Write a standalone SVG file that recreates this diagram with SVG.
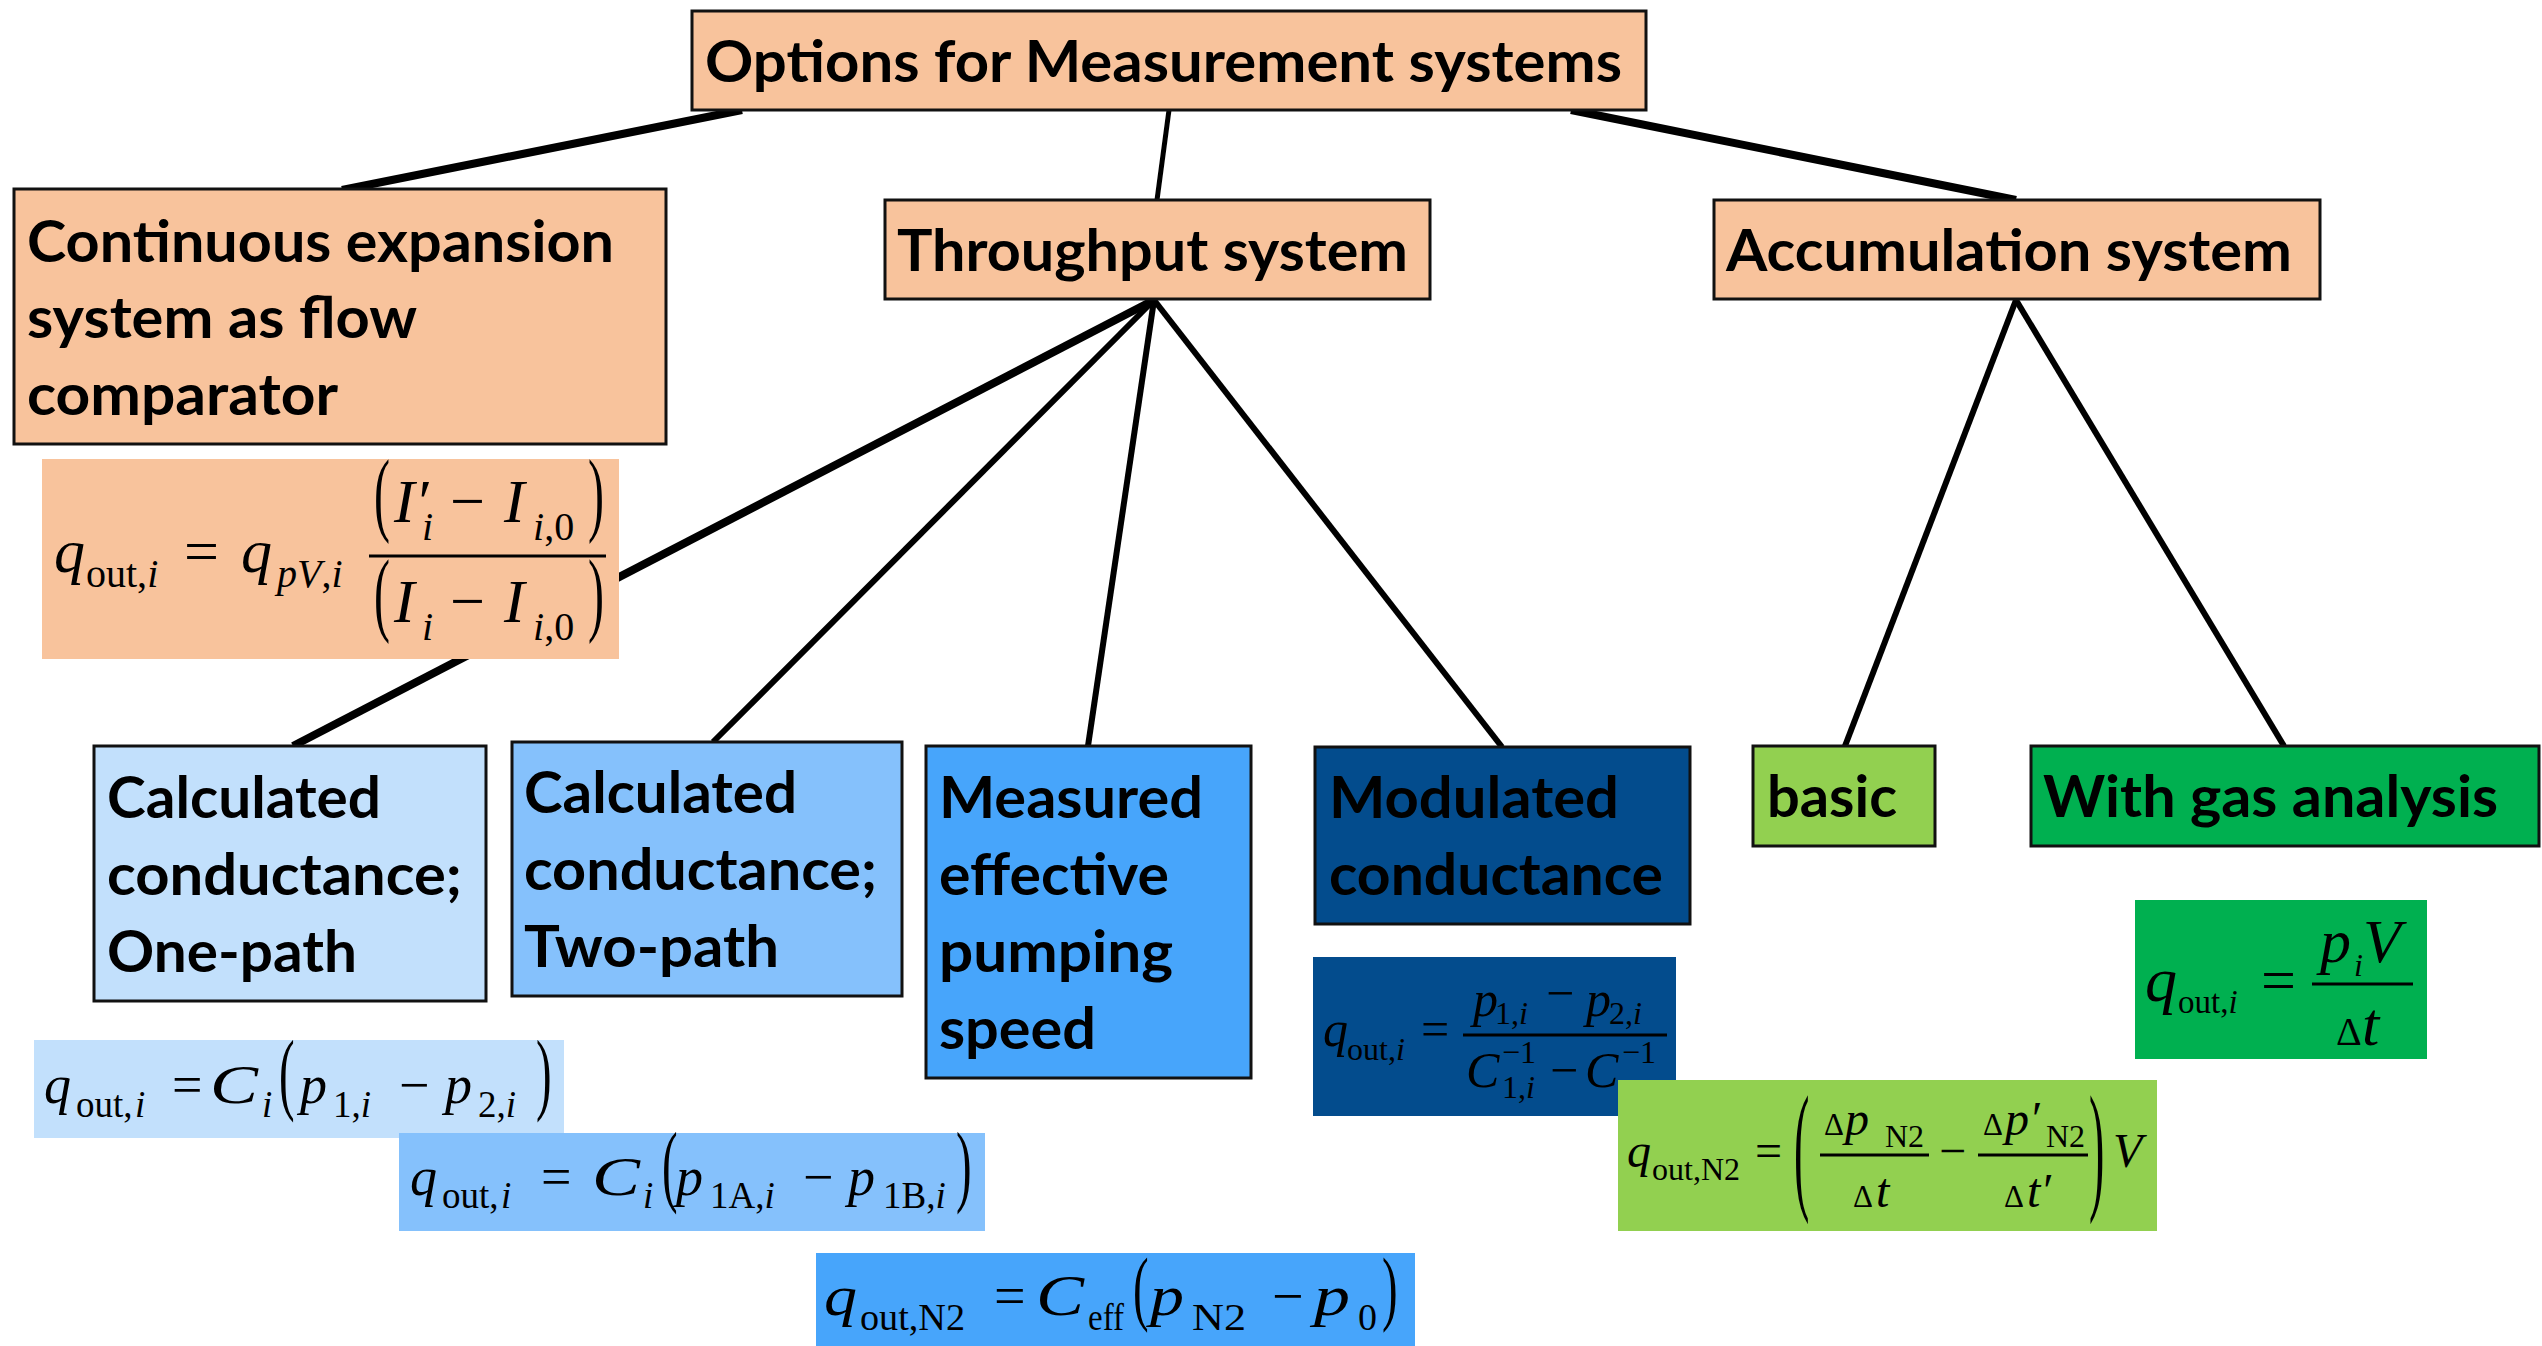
<svg xmlns="http://www.w3.org/2000/svg" width="2542" height="1346" viewBox="0 0 2542 1346">
<style>
.bx{stroke:#111;stroke-width:3}
.lbl{font-family:Lato,"Open Sans","Liberation Sans",sans-serif;font-weight:700;font-size:58px;fill:#000}
.c{stroke:#000;stroke-width:6;fill:none}
.ct{stroke-width:8}
.cn{stroke-width:5}
.m{font-family:"Liberation Serif","Times New Roman",serif;fill:#000}
.it{font-style:italic}
.up{font-style:normal}
.bar{stroke:#000;stroke-width:3}
.peach{fill:#F8C39C}
.b1{fill:#C2E0FC}
.b2{fill:#85C1FC}
.b3{fill:#47A5FB}
.b4{fill:#034C8D}
.g1{fill:#92D050}
.g2{fill:#00B050}
</style>
<rect width="2542" height="1346" fill="#fff"/>

<g id="connectors">
<line class="c ct" x1="742" y1="110" x2="342" y2="190"/>
<line class="c cn" x1="1169" y1="110" x2="1157" y2="200"/>
<line class="c ct" x1="1571" y1="110" x2="2016" y2="200"/>
<line class="c ct" x1="1154" y1="300" x2="293" y2="746"/>
<line class="c" x1="1154" y1="300" x2="713" y2="742"/>
<line class="c" x1="1154" y1="300" x2="1088" y2="746"/>
<line class="c" x1="1154" y1="300" x2="1502" y2="747"/>
<line class="c" x1="2016" y1="300" x2="1845" y2="746"/>
<line class="c" x1="2016" y1="300" x2="2284" y2="746"/>
</g>

<g id="root">
<rect class="bx peach" x="692" y="11" width="954" height="99"/>
<text class="lbl" x="705" y="82" textLength="917" lengthAdjust="spacingAndGlyphs">Options for Measurement systems</text>
</g>

<g id="continuous">
<rect class="bx peach" x="14" y="189" width="652" height="255"/>
<text class="lbl"><tspan x="27" y="262" textLength="587" lengthAdjust="spacingAndGlyphs">Continuous expansion</tspan><tspan x="27" y="338" textLength="390" lengthAdjust="spacingAndGlyphs">system as flow</tspan><tspan x="27" y="415" textLength="311" lengthAdjust="spacingAndGlyphs">comparator</tspan></text>
</g>

<g id="throughput">
<rect class="bx peach" x="885" y="200" width="545" height="99"/>
<text class="lbl" x="897" y="271" textLength="511" lengthAdjust="spacingAndGlyphs">Throughput system</text>
</g>

<g id="accumulation">
<rect class="bx peach" x="1714" y="200" width="606" height="99"/>
<text class="lbl" x="1726" y="271" textLength="566" lengthAdjust="spacingAndGlyphs">Accumulation system</text>
</g>

<g id="one-path">
<rect class="bx b1" x="94" y="746" width="392" height="255"/>
<text class="lbl" x="107" y="818" textLength="274" lengthAdjust="spacingAndGlyphs">Calculated</text>
<text class="lbl" x="107" y="895" textLength="355" lengthAdjust="spacingAndGlyphs">conductance;</text>
<text class="lbl" x="107" y="972" textLength="250" lengthAdjust="spacingAndGlyphs">One-path</text>
</g>

<g id="two-path">
<rect class="bx b2" x="512" y="742" width="390" height="254"/>
<text class="lbl" x="524" y="813" textLength="273" lengthAdjust="spacingAndGlyphs">Calculated</text>
<text class="lbl" x="524" y="890" textLength="353" lengthAdjust="spacingAndGlyphs">conductance;</text>
<text class="lbl" x="524" y="967" textLength="255" lengthAdjust="spacingAndGlyphs">Two-path</text>
</g>

<g id="measured">
<rect class="bx b3" x="926" y="746" width="325" height="332"/>
<text class="lbl" x="939" y="818" textLength="264" lengthAdjust="spacingAndGlyphs">Measured</text>
<text class="lbl" x="939" y="895" textLength="230" lengthAdjust="spacingAndGlyphs">effective</text>
<text class="lbl" x="939" y="972" textLength="234" lengthAdjust="spacingAndGlyphs">pumping</text>
<text class="lbl" x="939" y="1049" textLength="157" lengthAdjust="spacingAndGlyphs">speed</text>
</g>

<g id="modulated">
<rect class="bx b4" x="1315" y="747" width="375" height="177"/>
<text class="lbl" x="1329" y="818" textLength="290" lengthAdjust="spacingAndGlyphs">Modulated</text>
<text class="lbl" x="1329" y="895" textLength="334" lengthAdjust="spacingAndGlyphs">conductance</text>
</g>

<g id="basic">
<rect class="bx g1" x="1753" y="746" width="182" height="100"/>
<text class="lbl" x="1767" y="817" textLength="130" lengthAdjust="spacingAndGlyphs">basic</text>
</g>

<g id="with-gas-analysis">
<rect class="bx g2" x="2031" y="746" width="508" height="100"/>
<text class="lbl" x="2043" y="817" textLength="455" lengthAdjust="spacingAndGlyphs">With gas analysis</text>
</g>

<g id="formula-continuous">
<rect class="peach" x="42" y="459" width="577" height="200"/>
<text class="m it" x="54" y="572" font-size="62">q</text>
<text class="m" x="86" y="587" font-size="40">out,<tspan class="it">i</tspan></text>
<text class="m" x="184" y="572" font-size="62">=</text>
<text class="m it" x="241" y="572" font-size="62">q</text>
<text class="m it" x="277" y="587" font-size="40">pV<tspan class="up">,</tspan>i</text>
<line class="bar" x1="369" y1="556" x2="606" y2="556"/>
<text class="m" font-size="60" transform="translate(374 524) scale(0.8 1.55)">(</text>
<text class="m it" x="394" y="522" font-size="62">I′<tspan x="422" y="540" font-size="40">i</tspan></text>
<text class="m" x="450" y="522" font-size="62">−</text>
<text class="m it" x="504" y="522" font-size="62">I<tspan x="533" y="540" font-size="40">i<tspan class="up">,0</tspan></tspan></text>
<text class="m" font-size="60" transform="translate(588 524) scale(0.8 1.55)">)</text>
<text class="m" font-size="60" transform="translate(374 624) scale(0.8 1.55)">(</text>
<text class="m it" x="394" y="622" font-size="62">I<tspan x="422" y="640" font-size="40">i</tspan></text>
<text class="m" x="450" y="622" font-size="62">−</text>
<text class="m it" x="504" y="622" font-size="62">I<tspan x="533" y="640" font-size="40">i<tspan class="up">,0</tspan></tspan></text>
<text class="m" font-size="60" transform="translate(588 624) scale(0.8 1.55)">)</text>
</g>

<g id="formula-one-path">
<rect class="b1" x="34" y="1040" width="530" height="98"/>
<text class="m it" x="44" y="1103" font-size="54">q</text>
<text class="m" x="76" y="1117" font-size="37">out,</text>
<text class="m it" x="135" y="1117" font-size="37">i</text>
<text class="m" x="172" y="1103" font-size="54">=</text>
<text class="m it" x="210" y="1103" font-size="54" textLength="48" lengthAdjust="spacingAndGlyphs">C</text>
<text class="m it" x="262" y="1117" font-size="37">i</text>
<text class="m" font-size="52" transform="translate(279 1103) scale(0.9 1.75)">(</text>
<text class="m it" x="300" y="1103" font-size="54">p</text>
<text class="m" x="333" y="1117" font-size="37">1,<tspan class="it">i</tspan></text>
<text class="m" x="399" y="1103" font-size="54">−</text>
<text class="m it" x="445" y="1103" font-size="54">p</text>
<text class="m" x="478" y="1117" font-size="37">2,<tspan class="it">i</tspan></text>
<text class="m" font-size="52" transform="translate(536 1103) scale(0.9 1.75)">)</text>
</g>

<g id="formula-two-path">
<rect class="b2" x="399" y="1133" width="586" height="98"/>
<text class="m it" x="410" y="1195" font-size="54">q</text>
<text class="m" x="442" y="1208" font-size="37">out,</text>
<text class="m it" x="501" y="1208" font-size="37">i</text>
<text class="m" x="541" y="1195" font-size="54">=</text>
<text class="m it" x="592" y="1195" font-size="54" textLength="48" lengthAdjust="spacingAndGlyphs">C</text>
<text class="m it" x="643" y="1208" font-size="37">i</text>
<text class="m" font-size="52" transform="translate(662 1195) scale(0.9 1.75)">(</text>
<text class="m it" x="676" y="1195" font-size="54">p</text>
<text class="m" x="710" y="1208" font-size="37">1A,<tspan class="it">i</tspan></text>
<text class="m" x="803" y="1195" font-size="54">−</text>
<text class="m it" x="848" y="1195" font-size="54">p</text>
<text class="m" x="883" y="1208" font-size="37">1B,<tspan class="it">i</tspan></text>
<text class="m" font-size="52" transform="translate(956 1195) scale(0.9 1.75)">)</text>
</g>

<g id="formula-measured">
<rect class="b3" x="816" y="1253" width="599" height="93"/>
<text class="m it" x="824" y="1315" font-size="56" textLength="33" lengthAdjust="spacingAndGlyphs">q</text>
<text class="m" x="860" y="1330" font-size="38" textLength="105" lengthAdjust="spacingAndGlyphs">out,N2</text>
<text class="m" x="994" y="1315" font-size="56">=</text>
<text class="m it" x="1036" y="1315" font-size="56" textLength="48" lengthAdjust="spacingAndGlyphs">C</text>
<text class="m" x="1088" y="1330" font-size="38" textLength="36" lengthAdjust="spacingAndGlyphs">eff</text>
<text class="m" font-size="52" transform="translate(1133 1315) scale(0.9 1.6)">(</text>
<text class="m it" x="1150" y="1315" font-size="56" textLength="34" lengthAdjust="spacingAndGlyphs">p</text>
<text class="m" x="1192" y="1330" font-size="38" textLength="54" lengthAdjust="spacingAndGlyphs">N2</text>
<text class="m" x="1272" y="1315" font-size="56">−</text>
<text class="m it" x="1314" y="1315" font-size="56" textLength="36" lengthAdjust="spacingAndGlyphs">p</text>
<text class="m" x="1358" y="1330" font-size="38">0</text>
<text class="m" font-size="52" transform="translate(1382 1315) scale(0.9 1.6)">)</text>
</g>

<g id="formula-modulated">
<rect class="b4" x="1313" y="957" width="363" height="159"/>
<text class="m it" x="1323" y="1046" font-size="50">q</text>
<text class="m" x="1347" y="1060" font-size="32">out,<tspan class="it">i</tspan></text>
<text class="m" x="1421" y="1046" font-size="50">=</text>
<line class="bar" x1="1463" y1="1035" x2="1667" y2="1035" stroke-width="2.5"/>
<text class="m it" x="1473" y="1016" font-size="50">p</text>
<text class="m" x="1495" y="1024" font-size="32">1,<tspan class="it">i</tspan></text>
<text class="m" x="1546" y="1010" font-size="50">−</text>
<text class="m it" x="1586" y="1016" font-size="50">p</text>
<text class="m" x="1609" y="1024" font-size="32">2,<tspan class="it">i</tspan></text>
<text class="m it" x="1466" y="1087" font-size="50">C</text>
<text class="m" x="1502" y="1063" font-size="32">−1</text>
<text class="m" x="1502" y="1098" font-size="32">1,<tspan class="it">i</tspan></text>
<text class="m" x="1550" y="1087" font-size="50">−</text>
<text class="m it" x="1585" y="1087" font-size="50">C</text>
<text class="m" x="1622" y="1063" font-size="32">−1</text>
</g>

<g id="formula-basic">
<rect class="g1" x="1618" y="1080" width="539" height="151"/>
<text class="m it" x="1627" y="1167" font-size="48">q</text>
<text class="m" x="1652" y="1180" font-size="32">out,N2</text>
<text class="m" x="1755" y="1167" font-size="48">=</text>
<text class="m" font-size="46" transform="translate(1794 1194) scale(1 3.1)">(</text>
<line class="bar" x1="1820" y1="1155" x2="1929" y2="1155" stroke-width="2.5"/>
<text class="m" x="1824" y="1135" font-size="31">Δ</text>
<text class="m it" x="1845" y="1135" font-size="48">p</text>
<text class="m" x="1885" y="1147" font-size="32">N2</text>
<text class="m" x="1853" y="1207" font-size="31">Δ</text>
<text class="m it" x="1876" y="1207" font-size="48">t</text>
<text class="m" x="1939" y="1167" font-size="48">−</text>
<line class="bar" x1="1978" y1="1155" x2="2088" y2="1155" stroke-width="2.5"/>
<text class="m" x="1983" y="1135" font-size="31">Δ</text>
<text class="m it" x="2005" y="1135" font-size="48">p′<tspan class="up" x="2046" y="1147" font-size="32">N2</tspan></text>
<text class="m" x="2004" y="1207" font-size="31">Δ</text>
<text class="m it" x="2027" y="1207" font-size="48">t′</text>
<text class="m" font-size="46" transform="translate(2089 1194) scale(1 3.1)">)</text>
<text class="m it" x="2113" y="1167" font-size="48">V</text>
</g>

<g id="formula-gas">
<rect class="g2" x="2135" y="900" width="292" height="159"/>
<text class="m it" x="2145" y="1001" font-size="64">q</text>
<text class="m" x="2178" y="1013" font-size="33">out,<tspan class="it">i</tspan></text>
<text class="m" x="2261" y="1001" font-size="62">=</text>
<line class="bar" x1="2312" y1="984" x2="2413" y2="984"/>
<text class="m it" x="2320" y="962" font-size="62">p<tspan x="2354" y="976" font-size="32">i</tspan></text>
<text class="m it" x="2363" y="962" font-size="62">V</text>
<text class="m" x="2336" y="1045" font-size="40">Δ</text>
<text class="m it" x="2362" y="1045" font-size="62">t</text>
</g>
</svg>
